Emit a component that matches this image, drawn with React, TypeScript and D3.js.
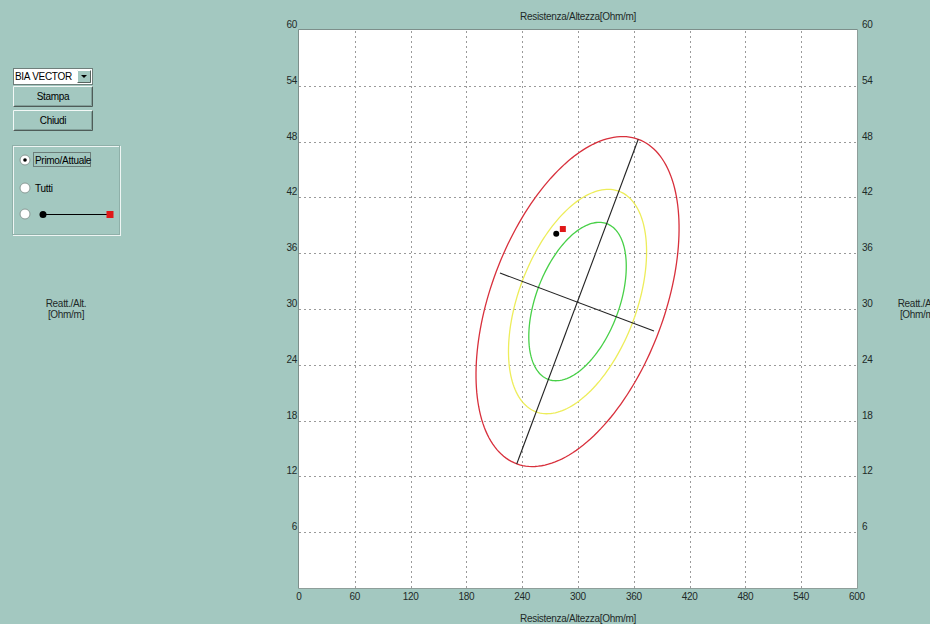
import { useRef, useEffect } from 'react'
import * as d3 from 'd3'

// axis ticks
const xTicks = [0, 60, 120, 180, 240, 300, 360, 420, 480, 540, 600]
const yTicks = [0, 6, 12, 18, 24, 30, 36, 42, 48, 54, 60]

// reference ellipse (Resistenza/Altezza, Reattanza/Altezza)
const ellipseCenter: [number, number] = [299.5, 30.8]
const ellipseMajor: [number, number] = [65.3, 17.45]
const ellipseMinor: [number, number] = [87.5, -3.2]
const ellipseLevels = [1, 0.68, 0.48] // 95%, 75%, 50%
const ellipseColors = ['#d8303c', '#eded5a', '#48d048']

const majorAxisEnds: [number, number][] = [
  [234.1, 13.33],
  [364.8, 48.25],
]
const minorAxisEnds: [number, number][] = [
  [216.1, 33.87],
  [381.7, 27.63],
]

// measured points
const firstPoint: [number, number] = [276.6, 38.1]
const currentPoint: [number, number] = [283.7, 38.6]

const xTitle = 'Resistenza/Altezza[Ohm/m]'
const yTitle = ['Reatt./Alt.', '[Ohm/m]']

const BG = '#a3c8c0'
const FONT = "'Liberation Sans', Arial, sans-serif"

export default function App() {
  const svgRef = useRef<SVGSVGElement>(null)

  useEffect(() => {
    if (!svgRef.current) return
    const W = 930
    const H = 624
    const svg = d3.select(svgRef.current)
    svg.selectAll('*').remove()
    svg.attr('width', W).attr('height', H)

    svg.append('rect').attr('width', W).attr('height', H).attr('fill', BG)

    const x = d3.scaleLinear().domain([0, 600]).range([299, 857])
    const y = d3.scaleLinear().domain([0, 60]).range([588, 30])

    // plot area
    svg
      .append('rect')
      .attr('x', 299)
      .attr('y', 30)
      .attr('width', 558)
      .attr('height', 558)
      .attr('fill', '#ffffff')
    svg
      .append('path')
      .attr('d', 'M298.5,588.5 L298.5,29.5 L857.5,29.5')
      .attr('fill', 'none')
      .attr('stroke', '#7d8f8b')
    svg
      .append('path')
      .attr('d', 'M857.5,29.5 L857.5,588.5 L298.5,588.5')
      .attr('fill', 'none')
      .attr('stroke', '#8e9e9a')

    const grid = svg.append('g').attr('stroke', '#9a9a9a').attr('stroke-dasharray', '2,3')
    grid
      .selectAll('.vg')
      .data(xTicks.slice(1, -1))
      .join('line')
      .attr('x1', (d) => Math.round(x(d)) + 0.5)
      .attr('x2', (d) => Math.round(x(d)) + 0.5)
      .attr('y1', 31)
      .attr('y2', 588)
    grid
      .selectAll('.hg')
      .data(yTicks.slice(1, -1))
      .join('line')
      .attr('y1', (d) => Math.round(y(d)) + 0.5)
      .attr('y2', (d) => Math.round(y(d)) + 0.5)
      .attr('x1', 299)
      .attr('x2', 857)

    const txt = (g: d3.Selection<any, any, any, any>) =>
      g
        .attr('font-family', FONT)
        .attr('font-size', '10px')
        .attr('letter-spacing', '-0.3px')
        .attr('fill', '#1e2a28')

    // tick labels
    svg
      .append('g')
      .call(txt)
      .selectAll('text')
      .data(xTicks)
      .join('text')
      .attr('x', (d) => x(d))
      .attr('y', 600)
      .attr('text-anchor', 'middle')
      .text((d) => d)
    svg
      .append('g')
      .call(txt)
      .selectAll('text')
      .data(yTicks.slice(1))
      .join('text')
      .attr('x', 297)
      .attr('y', (d) => y(d) - 2)
      .attr('text-anchor', 'end')
      .text((d) => d)
    svg
      .append('g')
      .call(txt)
      .selectAll('text')
      .data(yTicks.slice(1))
      .join('text')
      .attr('x', 862)
      .attr('y', (d) => y(d) - 2)
      .text((d) => d)

    // titles
    svg.append('text').call(txt).attr('x', 578).attr('y', 20).attr('text-anchor', 'middle').text(xTitle)
    svg.append('text').call(txt).attr('x', 578).attr('y', 622).attr('text-anchor', 'middle').text(xTitle)
    yTitle.forEach((t, i) => {
      svg.append('text').call(txt).attr('x', 66).attr('y', 307 + i * 11).attr('text-anchor', 'middle').text(t)
      svg.append('text').call(txt).attr('x', 918).attr('y', 307 + i * 11).attr('text-anchor', 'middle').text(t)
    })

    // ellipses
    const ts = d3.range(0, 361, 2).map((a) => (a * Math.PI) / 180)
    const ellipse = (k: number) =>
      d3
        .line<number>()
        .x((t) => x(ellipseCenter[0] + k * (ellipseMajor[0] * Math.cos(t) + ellipseMinor[0] * Math.sin(t))))
        .y((t) => y(ellipseCenter[1] + k * (ellipseMajor[1] * Math.cos(t) + ellipseMinor[1] * Math.sin(t))))
        .curve(d3.curveLinearClosed)(ts)
    ellipseLevels.forEach((k, i) => {
      svg
        .append('path')
        .attr('d', ellipse(k))
        .attr('fill', 'none')
        .attr('stroke', ellipseColors[i])
        .attr('stroke-width', 1.3)
    })

    // axes of the ellipse
    const seg = d3
      .line<[number, number]>()
      .x((d) => x(d[0]))
      .y((d) => y(d[1]))
    ;[majorAxisEnds, minorAxisEnds].forEach((ends) => {
      svg.append('path').attr('d', seg(ends)).attr('fill', 'none').attr('stroke', '#222').attr('stroke-width', 1.1)
    })

    // points
    svg.append('circle').attr('cx', x(firstPoint[0])).attr('cy', y(firstPoint[1])).attr('r', 3).attr('fill', '#000')
    svg
      .append('rect')
      .attr('x', x(currentPoint[0]) - 3)
      .attr('y', y(currentPoint[1]) - 3)
      .attr('width', 6)
      .attr('height', 6)
      .attr('fill', '#e01818')

    // controls on the left
    const ui = svg.append('g')
    // combo box
    ui.append('rect').attr('x', 13.5).attr('y', 68.5).attr('width', 79).attr('height', 16).attr('fill', '#fff').attr('stroke', '#6f7f7b')
    ui.append('text').call(txt).attr('x', 15).attr('y', 80).attr('fill', '#000').text('BIA VECTOR')
    ui.append('rect').attr('x', 77).attr('y', 70).attr('width', 14).attr('height', 13).attr('fill', BG)
    ui.append('path').attr('d', 'M77.5,83 L77.5,70.5 L91,70.5').attr('fill', 'none').attr('stroke', '#fff')
    ui.append('path').attr('d', 'M90.5,70.5 L90.5,82.5 L77.5,82.5').attr('fill', 'none').attr('stroke', '#56645f')
    ui.append('path').attr('d', 'M81,75 L87,75 L84,78 Z').attr('fill', '#000')

    const button = (y0: number, label: string) => {
      ui.append('rect').attr('x', 13).attr('y', y0).attr('width', 80).attr('height', 21).attr('fill', BG)
      ui.append('path').attr('d', `M13.5,${y0 + 21} L13.5,${y0 + 0.5} L93,${y0 + 0.5}`).attr('fill', 'none').attr('stroke', '#f2f8f6')
      ui.append('path').attr('d', `M92.5,${y0 + 0.5} L92.5,${y0 + 20.5} L13.5,${y0 + 20.5}`).attr('fill', 'none').attr('stroke', '#4e5c58')
      ui.append('path').attr('d', `M91.5,${y0 + 1.5} L91.5,${y0 + 19.5} L14.5,${y0 + 19.5}`).attr('fill', 'none').attr('stroke', '#83a09a')
      ui.append('text').call(txt).attr('x', 53).attr('y', y0 + 14).attr('text-anchor', 'middle').attr('fill', '#000').text(label)
    }
    button(86, 'Stampa')
    button(110, 'Chiudi')

    // group box
    ui.append('rect').attr('x', 13.5).attr('y', 146.5).attr('width', 107).attr('height', 89).attr('fill', 'none').attr('stroke', '#eef5f3')
    ui.append('rect').attr('x', 12.5).attr('y', 145.5).attr('width', 107).attr('height', 89).attr('fill', 'none').attr('stroke', '#8fb0a9')

    const radio = (cy: number, on: boolean) => {
      ui.append('circle').attr('cx', 25).attr('cy', cy).attr('r', 5).attr('fill', '#fff').attr('stroke', '#8a9a96')
      if (on) ui.append('circle').attr('cx', 25).attr('cy', cy).attr('r', 1.8).attr('fill', '#000')
    }
    radio(160, true)
    radio(188, false)
    radio(214, false)
    ui.append('text').call(txt).attr('x', 35).attr('y', 164).attr('fill', '#000').text('Primo/Attuale')
    ui.append('rect')
      .attr('x', 33.5)
      .attr('y', 152.5)
      .attr('width', 57)
      .attr('height', 14)
      .attr('fill', 'none')
      .attr('stroke', '#333')
      .attr('stroke-dasharray', '1,1')
    ui.append('text').call(txt).attr('x', 35).attr('y', 192).attr('fill', '#000').text('Tutti')
    ui.append('line').attr('x1', 43).attr('x2', 110).attr('y1', 214.5).attr('y2', 214.5).attr('stroke', '#000')
    ui.append('circle').attr('cx', 43).attr('cy', 214.5).attr('r', 3.5).attr('fill', '#000')
    ui.append('rect').attr('x', 106.5).attr('y', 211).attr('width', 7).attr('height', 7).attr('fill', '#e01818')

    return () => {
      svg.selectAll('*').remove()
    }
  }, [])

  return (
    <svg
      ref={svgRef}
      style={{ position: 'fixed', left: 0, top: 0, display: 'block' }}
    />
  )
}
